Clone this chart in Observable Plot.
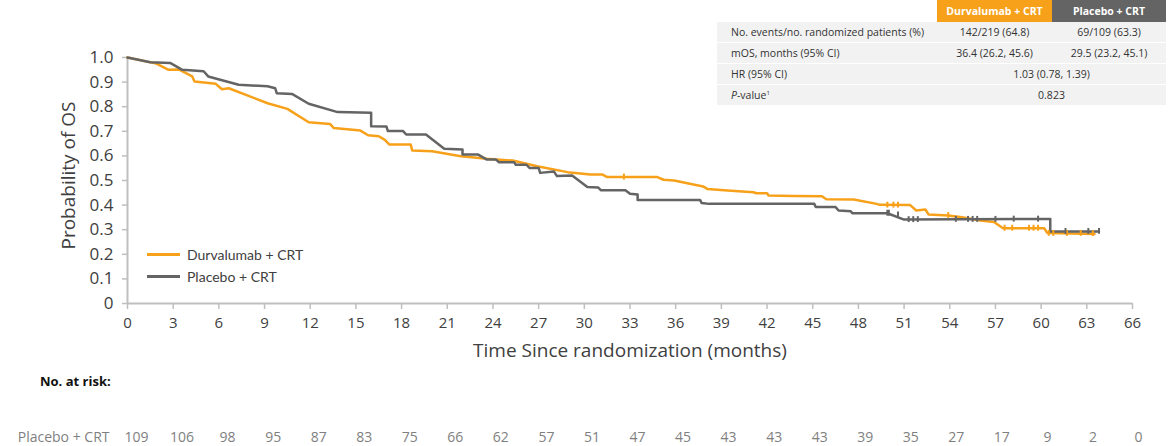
<!DOCTYPE html>
<html>
<head>
<meta charset="utf-8">
<script src="https://cdn.jsdelivr.net/npm/d3@7"></script>
<script src="https://cdn.jsdelivr.net/npm/@observablehq/plot@0.6"></script>
<style>
  html, body { margin: 0; padding: 0; background: #fff; }
  #wrap { position: relative; width: 1176px; height: 446px; overflow: hidden; font-family: "Open Sans", "Noto Sans", sans-serif; }
  #chart { position: absolute; left: 0; top: 0; }
  #risk { position: absolute; left: 0; top: 425px; }
  table.stats { position: absolute; left: 717px; top: 0; width: 449px; border-collapse: collapse; font-size: 10.5px; color: #333; }
  table.stats td { height: 20px; padding: 0; border-bottom: 1px solid #fff; }
  table.stats tr.body td { background: #f2f2f2; }
  table.stats td.lab { padding-left: 14px; text-align: left; }
  table.stats td.c { text-align: center; }
  table.stats th { height: 22px; padding: 0; color: #fff; font-weight: 700; font-size: 10.5px; text-align: center; }
  .legend { position: absolute; font-size: 14px; font-family: Lato, "Open Sans", sans-serif; color: #404040; display: flex; align-items: center; }
  .legend span.sw { display: inline-block; width: 33px; height: 3px; margin-right: 7px; }
  #nar { position: absolute; left: 40px; top: 372px; font-weight: 700; font-size: 13px; color: #111; }
</style>
</head>
<body>
<div id="wrap">
  <div id="chart"></div>
  <table class="stats" id="stats"></table>
  <div class="legend" style="left:147px; top:246px;"><span class="sw" style="background:#F7A11A"></span><span id="leg0"></span></div>
  <div class="legend" style="left:147px; top:268px;"><span class="sw" style="background:#646464"></span><span id="leg1"></span></div>
  <div id="nar">No. at risk:</div>
  <div id="risk"></div>
</div>
<script>
// ---------- data ----------
const seriesNames = ["Durvalumab + CRT", "Placebo + CRT"];
const seriesColors = ["#F7A11A", "#646464"];

const durvaTime = [0, 1.9, 2.7, 3.4, 4.25, 4.4, 5.8, 6.2, 6.65, 9.2, 10.5, 11.9, 13.3, 13.55, 15.3, 15.8, 16.5, 16.9, 17.2, 18.6, 18.7, 20.0, 21.9, 23.6, 25.3, 26.9, 28.9, 30.4, 31.2, 31.5, 34.8, 35.2, 35.9, 37.8, 38.1, 39.4, 41.1, 41.3, 42.0, 42.1, 43.7, 45.6, 45.9, 47.7, 49.2, 49.4, 51.4, 51.8, 52.4, 52.6, 53.9, 54.8, 56.0, 56.9, 57.5, 60.2, 60.4, 63.5];
const durvaSurv = [1.0, 0.975, 0.95, 0.951, 0.923, 0.902, 0.893, 0.871, 0.875, 0.814, 0.791, 0.737, 0.730, 0.713, 0.703, 0.684, 0.680, 0.665, 0.646, 0.646, 0.622, 0.619, 0.599, 0.588, 0.581, 0.558, 0.534, 0.524, 0.524, 0.514, 0.514, 0.503, 0.500, 0.476, 0.465, 0.459, 0.452, 0.448, 0.448, 0.439, 0.437, 0.436, 0.424, 0.423, 0.405, 0.401, 0.400, 0.378, 0.382, 0.362, 0.358, 0.351, 0.337, 0.331, 0.306, 0.306, 0.287, 0.283];

const placeboTime = [0, 1.5, 2.8, 3.6, 5.0, 5.3, 7.3, 9.2, 9.7, 9.8, 10.8, 11.9, 13.8, 16.0, 16.0, 17.0, 17.1, 18.1, 18.3, 19.6, 20.8, 22.0, 22.0, 23.0, 23.6, 24.2, 24.4, 25.4, 25.5, 26.2, 26.4, 27.0, 27.1, 28.0, 28.2, 29.2, 30.2, 30.9, 31.1, 32.7, 33.0, 33.5, 33.5, 37.6, 37.7, 38.2, 45.1, 45.2, 46.5, 46.7, 47.5, 47.6, 49.9, 51.0, 60.6, 60.6, 63.8];
const placeboSurv = [1.0, 0.981, 0.978, 0.95, 0.944, 0.923, 0.889, 0.883, 0.875, 0.855, 0.852, 0.812, 0.778, 0.775, 0.721, 0.72, 0.701, 0.701, 0.687, 0.687, 0.629, 0.626, 0.606, 0.606, 0.585, 0.585, 0.574, 0.574, 0.564, 0.564, 0.551, 0.551, 0.531, 0.537, 0.518, 0.52, 0.474, 0.472, 0.46, 0.46, 0.446, 0.443, 0.421, 0.421, 0.409, 0.405, 0.405, 0.392, 0.392, 0.378, 0.375, 0.367, 0.367, 0.341, 0.344, 0.293, 0.293];

const durvaCensorTime = [32.6, 49.9, 50.3, 50.6, 53.9, 57.6, 58.1, 59.2, 59.5, 59.8, 60.5, 60.8, 61.7, 62.6, 63.4];
const durvaCensorSurv = [0.514, 0.40, 0.40, 0.40, 0.358, 0.306, 0.306, 0.306, 0.306, 0.306, 0.285, 0.285, 0.285, 0.285, 0.284];
const placeboCensorTime = [49.9, 50.0, 50.6, 51.3, 51.6, 51.9, 54.4, 55.2, 55.5, 55.8, 57.0, 58.2, 59.8, 61.6, 63.1, 63.8];
const placeboCensorSurv = [0.367, 0.367, 0.36, 0.341, 0.341, 0.341, 0.342, 0.342, 0.342, 0.342, 0.342, 0.343, 0.343, 0.293, 0.293, 0.293];

const xTicks = [0, 3, 6, 9, 12, 15, 18, 21, 24, 27, 30, 33, 36, 39, 42, 45, 48, 51, 54, 57, 60, 63, 66];
const yTicks = [0, 0.1, 0.2, 0.3, 0.4, 0.5, 0.6, 0.7, 0.8, 0.9, 1.0];
const atRiskTimes = xTicks;
const atRiskPlacebo = [109, 106, 98, 95, 87, 83, 75, 66, 62, 57, 51, 47, 45, 43, 43, 43, 39, 35, 27, 17, 9, 2, 0];
const atRiskLabel = "Placebo + CRT";

const xLabel = "Time Since randomization (months)";
const yLabel = "Probability of OS";

const tableHeader = ["", "Durvalumab + CRT", "Placebo + CRT"];
const tableRows = [
  ["No. events/no. randomized patients (%)", "142/219 (64.8)", "69/109 (63.3)"],
  ["mOS, months (95% CI)", "36.4 (26.2, 45.6)", "29.5 (23.2, 45.1)"],
  ["HR (95% CI)", "1.03 (0.78, 1.39)"],
  ["<i>P</i>-value<sup style='font-size:6px'>1</sup>", "0.823"]
];

// ---------- build ----------
const curves = [
  ...durvaTime.map((t, i) => ({t, s: durvaSurv[i], g: seriesNames[0]})),
  ...placeboTime.map((t, i) => ({t, s: placeboSurv[i], g: seriesNames[1]}))
];
const censors = [
  ...durvaCensorTime.map((t, i) => ({t, s: durvaCensorSurv[i], g: seriesNames[0]})),
  ...placeboCensorTime.map((t, i) => ({t, s: placeboCensorSurv[i], g: seriesNames[1]}))
];

const axisGray = "#bfbfbf";
const textGray = "#404040";
const baseFont = "'Open Sans', 'Noto Sans', sans-serif";

const chart = Plot.plot({
  width: 1176,
  height: 370,
  marginLeft: 127,
  marginRight: 44,
  marginTop: 57,
  marginBottom: 67,
  style: {fontFamily: baseFont, background: "transparent", overflow: "visible"},
  x: {domain: [0, 66]},
  y: {domain: [0, 1]},
  color: {domain: seriesNames, range: seriesColors},
  marks: [
    Plot.axisY({ticks: yTicks, tickSize: 5, tickPadding: 9, tickFormat: d => d === 0 ? "0" : d.toFixed(1), stroke: axisGray, fill: textGray, fontSize: 17, label: null, strokeWidth: 1.5}),
    Plot.axisX({ticks: xTicks, tickSize: 6, tickPadding: 8, tickFormat: d => String(d), stroke: axisGray, fill: textGray, fontSize: 15, label: null, strokeWidth: 1.5}),
    Plot.ruleX([0], {stroke: axisGray, strokeWidth: 2}),
    Plot.ruleY([0], {stroke: axisGray, strokeWidth: 2}),
    Plot.line(curves, {x: "t", y: "s", z: "g", stroke: "g", strokeWidth: 2.5, curve: "linear"}),
    Plot.ruleX(censors, {x: "t", y1: d => d.s - 0.012, y2: d => d.s + 0.012, stroke: "g", strokeWidth: 2}),
    Plot.text([xLabel], {frameAnchor: "bottom", dy: 53, fontSize: 19, fill: textGray}),
    Plot.text([yLabel], {frameAnchor: "left", dx: -59, dy: -5, rotate: -90, textAnchor: "middle", fontSize: 19, fill: textGray})
  ]
});
document.getElementById("chart").appendChild(chart);

const risk = Plot.plot({
  width: 1176,
  height: 24,
  marginLeft: 136,
  marginRight: 38,
  marginTop: 0,
  marginBottom: 0,
  style: {fontFamily: baseFont, background: "transparent", overflow: "visible"},
  x: {domain: [0, 66], axis: null},
  marks: [
    Plot.text(atRiskTimes, {x: d => d, text: (d, i) => String(atRiskPlacebo[i]), frameAnchor: "middle", fontSize: 14, fill: "#7f7f7f"}),
    Plot.text([atRiskLabel], {frameAnchor: "left", dx: -27, textAnchor: "end", fontSize: 14, fill: "#7f7f7f"})
  ]
});
document.getElementById("risk").appendChild(risk);

document.getElementById("leg0").textContent = seriesNames[0];
document.getElementById("leg1").textContent = seriesNames[1];

// table
const tbl = document.getElementById("stats");
let html = "<colgroup><col style='width:220px'><col style='width:115px'><col style='width:114px'></colgroup>";
html += "<tr><th style='background:#fff'></th><th style='background:" + seriesColors[0] + "'>" + tableHeader[1] + "</th><th style='background:" + seriesColors[1] + "'>" + tableHeader[2] + "</th></tr>";
for (const r of tableRows) {
  if (r.length === 3) html += "<tr class='body'><td class='lab'>" + r[0] + "</td><td class='c'>" + r[1] + "</td><td class='c'>" + r[2] + "</td></tr>";
  else html += "<tr class='body'><td class='lab'>" + r[0] + "</td><td class='c' colspan='2'>" + r[1] + "</td></tr>";
}
tbl.innerHTML = html;
</script>
</body>
</html>
